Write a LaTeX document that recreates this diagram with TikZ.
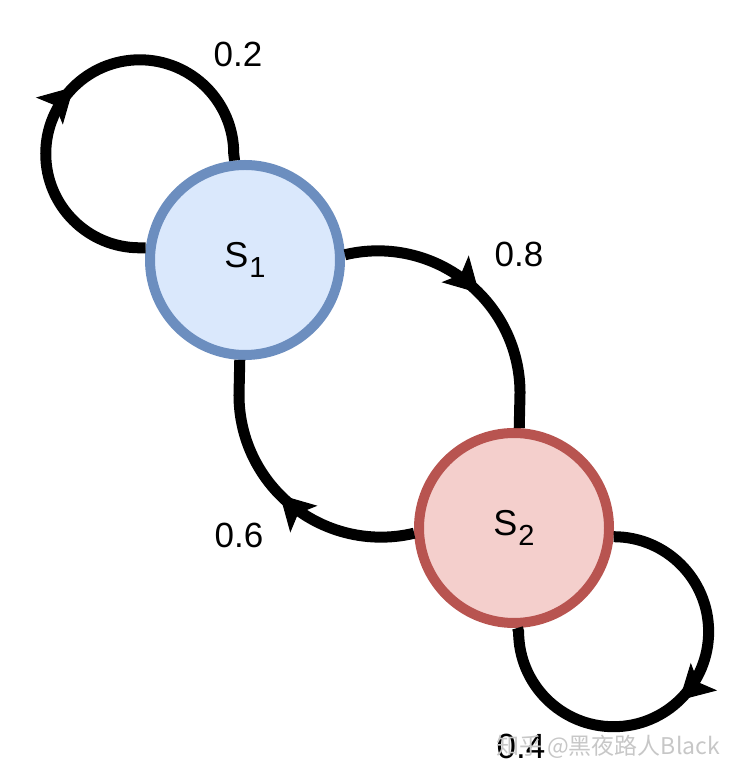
\documentclass[tikz,border=0pt]{standalone}
\usepackage{fontspec}
\setmainfont{Liberation Sans}
\newfontfamily\cjkfont{Noto Sans CJK SC}
\usetikzlibrary{arrows.meta, decorations.markings}
\definecolor{blueFill}{HTML}{DAE8FC}
\definecolor{blueLine}{HTML}{6C8EBF}
\definecolor{redFill}{HTML}{F4CFCC}
\definecolor{redLine}{HTML}{B85450}
\newcommand{\stname}[1]{S\kern1pt\lower10pt\hbox{\fontsize{29}{29}\selectfont #1}}

\begin{document}
\begin{tikzpicture}[x=1pt, y=1pt,
    state/.style={circle, line width=10pt, minimum size=190pt, inner sep=0pt,
      font=\fontsize{36}{36}\selectfont},
    link/.style={line width=11pt, postaction={decorate}, decoration={markings,
      mark=at position 0.5 with {\arrow[line width=1pt]{Stealth[length=34pt, width=38pt, inset=8pt]}}}},
    prob/.style={inner sep=0pt, font=\fontsize{35}{35}\selectfont}
  ]
  \useasboundingbox (0,0) rectangle (740,778);
  \node[state, fill=blueFill, draw=blueLine] (s1) at (245,518) {\stname{1}};
  \node[state, fill=redFill, draw=redLine] (s2) at (514,250) {\stname{2}};
  \draw[link] (s1.173) -- ++(-6,0) arc[start angle=270, end angle=0, radius=94] -- (s1.96);
  \draw[link] (s1.3) arc[start angle=103.5, end angle=0, radius=142] -- (s2.87);
  \draw[link] (s2.183) arc[start angle=-76.5, end angle=-180, radius=142] -- (s1.267);
  \draw[link] (s2.-5) arc[start angle=90, end angle=-180, radius=95] -- (s2.272);
  \node[prob] (p11) at (238,724) {0.2};
  \node[prob] (p12) at (519,524) {0.8};
  \node[prob] (p21) at (239,243) {0.6};
  \node[prob] (p22) at (521,32) {0.4};
  \node[inner sep=0pt, text=black!22, font=\cjkfont\fontsize{23}{23}\selectfont]
    (mark) at (608,31) {知乎 @黑夜路人Black};
\end{tikzpicture}
\end{document}
